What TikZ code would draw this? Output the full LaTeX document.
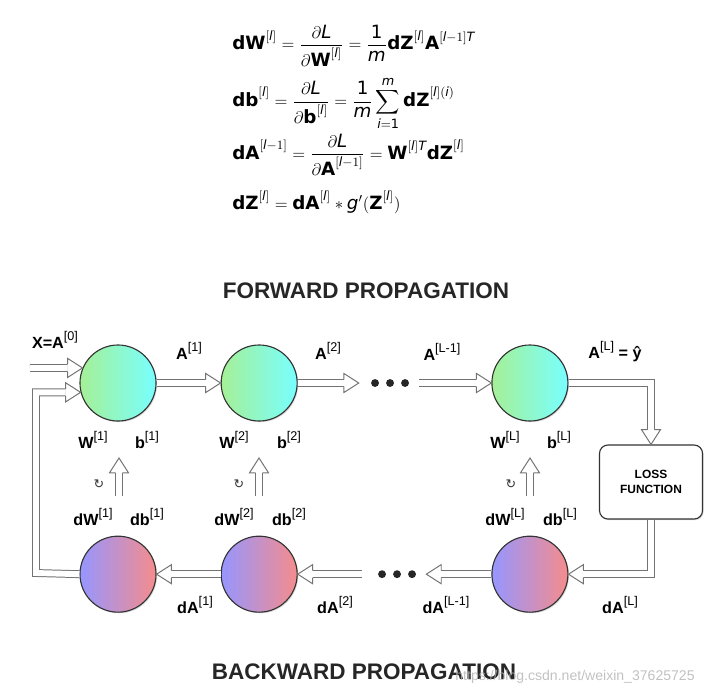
\documentclass[tikz,border=0pt]{standalone}
\usepackage{amsmath}
\usepackage{fontspec}
\setmainfont{DejaVu Sans}
\newfontfamily\lblfont{Liberation Sans}
\newfontfamily\symfont{DejaVu Sans}
\usetikzlibrary{positioning}
\usetikzlibrary{calc}
\usetikzlibrary{shadows}

\definecolor{fwdL}{RGB}{165,240,150}
\definecolor{fwdR}{RGB}{120,255,255}
\definecolor{bwdL}{RGB}{150,150,255}
\definecolor{bwdR}{RGB}{245,140,140}

\newcommand{\bv}[1]{\text{\bfseries #1}}
\newcommand{\iv}[1]{\text{\itshape #1}}
\newcommand{\tsup}[1]{\raisebox{0.5em}{\fontsize{9}{10}\selectfont\mdseries #1}}

\begin{document}
\begin{tikzpicture}[x=0.025cm, y=-0.025cm,
    neuron/.style={circle, draw=black!80, thick, minimum size=1.9cm, inner sep=0pt,
                   drop shadow={shadow xshift=0.8pt, shadow yshift=-0.8pt, opacity=0.3}},
    fwd/.style={neuron, left color=fwdL, right color=fwdR},
    bwd/.style={neuron, left color=bwdL, right color=bwdR},
    hollow/.style={draw=black!55, line width=0.7pt, double=white, double distance=4.2pt, shorten >=10.6pt},
    lossbox/.style={rectangle, rounded corners=6pt, draw=black!80, thick, fill=white, align=center,
                    minimum width=2.575cm, minimum height=1.85cm, font=\lblfont\bfseries\fontsize{8.5}{11}\selectfont,
                    drop shadow={shadow xshift=0.8pt, shadow yshift=-0.8pt, opacity=0.3}},
    lbl/.style={font=\lblfont\fontsize{11.5}{13}\selectfont, inner sep=1pt},
    title/.style={font=\lblfont\bfseries\fontsize{16}{19}\selectfont, text=black!85},
    eq/.style={anchor=west, inner sep=0pt, font=\fontsize{13}{16}\selectfont},
    hhead/.pic={\draw[draw=black!55, line width=0.7pt, fill=white]
                (-10.6pt,2.45pt) -- (-10.6pt,6.8pt) -- (0,0) -- (-10.6pt,-6.8pt) -- (-10.6pt,-2.45pt);},
    ]
    \useasboundingbox (0,0) rectangle (720,695);

    % equations
    \node[eq] (eqw) at (232,46) {$\displaystyle \bv{dW}^{[\iv{l}]} = \frac{\partial \iv{L}}{\partial \bv{W}^{[\iv{l}]}} = \frac{\text{1}}{\iv{m}}\bv{dZ}^{[\iv{l}]}\bv{A}^{[\iv{l}-1]\iv{T}}$};
    \node[eq] (eqb) at (232,103) {$\displaystyle \bv{db}^{[\iv{l}]} = \frac{\partial \iv{L}}{\partial \bv{b}^{[\iv{l}]}} = \frac{\text{1}}{\iv{m}}\sum_{\iv{i}=\text{1}}^{\iv{m}}\bv{dZ}^{[\iv{l}](\iv{i})}$};
    \node[eq] (eqa) at (232,155) {$\displaystyle \bv{dA}^{[\iv{l}-1]} = \frac{\partial \iv{L}}{\partial \bv{A}^{[\iv{l}-1]}} = \bv{W}^{[\iv{l}]\iv{T}}\bv{dZ}^{[\iv{l}]}$};
    \node[eq] (eqz) at (232,202) {$\displaystyle \bv{dZ}^{[\iv{l}]} = \bv{dA}^{[\iv{l}]} \ast \iv{g}'(\bv{Z}^{[\iv{l}]})$};

    \node[title] (tfwd) at (366,291) {FORWARD PROPAGATION};
    \node[title] (tbwd) at (364,672) {BACKWARD PROPAGATION};

    % layers
    \node[fwd] (f1) at (118,383) {};
    \node[fwd, right=1.6cm of f1] (f2) {};
    \node[minimum width=1.5cm, minimum height=0.5cm, inner sep=0pt, right=1.525cm of f2] (fdots) {};
    \node[fwd, right=1.8cm of fdots] (fL) {};

    \node[bwd, below=2.85cm of f1] (b1) {};
    \node[bwd, below=2.85cm of f2] (b2) {};
    \node[bwd, below=2.85cm of fL] (bL) {};
    \node[minimum width=1.6cm, minimum height=0.5cm, inner sep=0pt, right=1.6cm of b2] (bdots) {};

    \node[lossbox] (loss) at (651,482) {LOSS\\FUNCTION};

    \foreach \d in {-14,1,16} \fill[black!85] ([xshift=\d*0.025cm]fdots.center) circle (2.8pt);
    \foreach \d in {-12,3,18} \fill[black!85] ([xshift=\d*0.025cm]bdots.center) circle (2.8pt);

    % forward connectors
    \coordinate (xin) at (30,368);
    \coordinate (fb) at (36,573);
    \draw[hollow] (xin) -- (f1.157);
    \pic at (f1.157) {hhead};
    \draw[hollow] (b1.west) -- (fb) |- (f1.194);
    \pic at (f1.194) {hhead};
    \draw[hollow] (f1.east) -- (f2.west);
    \pic at (f2.west) {hhead};
    \draw[hollow] (f2.east) -- (fdots.west);
    \pic at (fdots.west) {hhead};
    \draw[hollow] (fdots.east) -- (fL.west);
    \pic at (fL.west) {hhead};
    \draw[hollow] (fL.east) -| (loss.north);
    \pic[rotate=-90] at (loss.north) {hhead};

    % backward connectors
    \draw[hollow] (loss.south) |- (bL.east);
    \pic[rotate=180] at (bL.east) {hhead};
    \draw[hollow] (bL.west) -- (bdots.east);
    \pic[rotate=180] at (bdots.east) {hhead};
    \draw[hollow] (bdots.west) -- (b2.east);
    \pic[rotate=180] at (b2.east) {hhead};
    \draw[hollow] (b2.west) -- (b1.east);
    \pic[rotate=180] at (b1.east) {hhead};

    % updates
    \coordinate (u1a) at (119,496);
    \coordinate (u1b) at (119,458);
    \coordinate (u2a) at (259,496);
    \coordinate (u2b) at (259,458);
    \coordinate (uLa) at (530,496);
    \coordinate (uLb) at (530,458);
    \draw[hollow] (u1a) -- (u1b);
    \pic[rotate=90] at (u1b) {hhead};
    \draw[hollow] (u2a) -- (u2b);
    \pic[rotate=90] at (u2b) {hhead};
    \draw[hollow] (uLa) -- (uLb);
    \pic[rotate=90] at (uLb) {hhead};
    \node[font=\symfont\fontsize{9}{10}\selectfont, text=black!80] (lr1) at (99,484) {↻};
    \node[font=\symfont\fontsize{9}{10}\selectfont, text=black!80] (lr2) at (239,484) {↻};
    \node[font=\symfont\fontsize{9}{10}\selectfont, text=black!80] (lrL) at (511,484) {↻};

    % labels
    \node[lbl] (lx) at (55,340) {\textbf{X=A}\tsup{[0]}};
    \node[lbl] (la1) at (189,351) {\textbf{A}\tsup{[1]}};
    \node[lbl] (la2) at (328,351) {\textbf{A}\tsup{[2]}};
    \node[lbl] (laL1) at (442,352) {\textbf{A}\tsup{[L-1]}};
    \node[lbl] (laL) at (615,352) {\textbf{A}\tsup{[L]} \textbf{= ŷ}};

    \node[lbl] (lw1) at (93,440) {\textbf{W}\tsup{[1]}};
    \node[lbl] (lb1) at (147,440) {\textbf{b}\tsup{[1]}};
    \node[lbl] (lw2) at (234,440) {\textbf{W}\tsup{[2]}};
    \node[lbl] (lb2) at (289,440) {\textbf{b}\tsup{[2]}};
    \node[lbl] (lwL) at (505,440) {\textbf{W}\tsup{[L]}};
    \node[lbl] (lbL) at (559,440) {\textbf{b}\tsup{[L]}};

    \node[lbl] (ldw1) at (93,517) {\textbf{dW}\tsup{[1]}};
    \node[lbl] (ldb1) at (147,517) {\textbf{db}\tsup{[1]}};
    \node[lbl] (ldw2) at (234,517) {\textbf{dW}\tsup{[2]}};
    \node[lbl] (ldb2) at (289,517) {\textbf{db}\tsup{[2]}};
    \node[lbl] (ldwL) at (505,517) {\textbf{dW}\tsup{[L]}};
    \node[lbl] (ldbL) at (560,517) {\textbf{db}\tsup{[L]}};

    \node[lbl] (lda1) at (195,605) {\textbf{dA}\tsup{[1]}};
    \node[lbl] (lda2) at (335,605) {\textbf{dA}\tsup{[2]}};
    \node[lbl] (ldaL1) at (446,605) {\textbf{dA}\tsup{[L-1]}};
    \node[lbl] (ldaL) at (620,605) {\textbf{dA}\tsup{[L]}};

    \node[font=\lblfont\fontsize{10}{12}\selectfont, text=black!30, opacity=0.8] (wm) at (575,677) {https://blog.csdn.net/weixin\_37625725};
\end{tikzpicture}
\end{document}
